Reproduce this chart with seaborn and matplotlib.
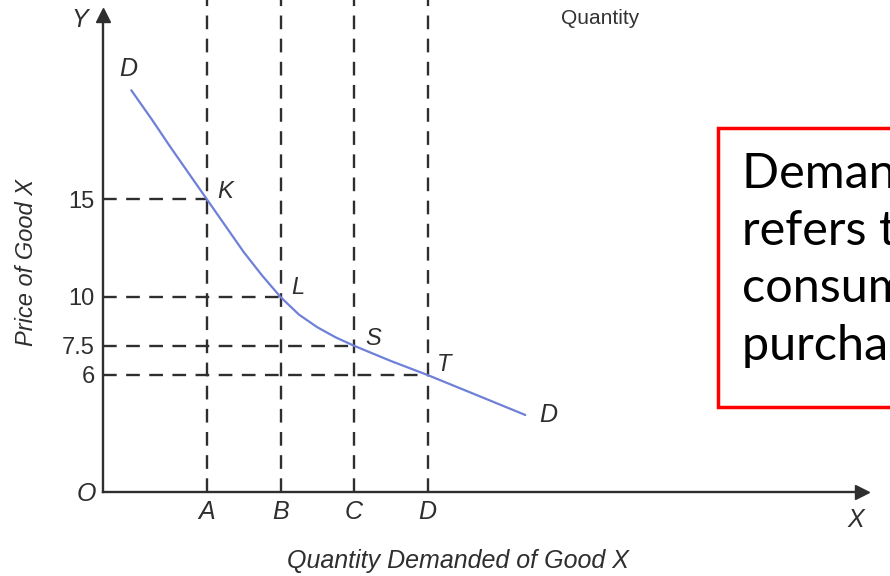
import matplotlib
matplotlib.use("Agg")
import matplotlib.pyplot as plt
import seaborn as sns
from matplotlib.patches import Rectangle

# -------------------------
# Data
# -------------------------
point_labels = ["K", "L", "S", "T"]
qty_labels = ["A", "B", "C", "D"]
quantities = [1, 2, 3, 4]
prices = [15, 10, 7.5, 6]
price_labels = ["15", "10", "7.5", "6"]

# demand curve DD
curve_q = [-0.03, 0.25, 0.5, 0.75, 1.0, 1.25, 1.5, 1.75, 2.0, 2.25, 2.5, 2.75,
           3.0, 3.5, 4.0, 4.65, 5.33]
curve_p = [20.6, 19.1, 17.7, 16.35, 15.0, 13.65, 12.3, 11.1, 10.0, 9.1, 8.45, 7.93,
           7.5, 6.72, 6.0, 5.0, 3.95]

box_lines = ["Demand in economics", "refers to the desire", "consumers have to", "purchase goods"]

sns.set_theme(style="white")
plt.rcParams["font.family"] = ["Liberation Sans", "DejaVu Sans"]

W, H = 890, 576


def fpx(x, y):
    # figure fraction from pixel position
    return x / W, 1 - y / H


ink = "#2e2e2e"
dash = (0, (5.8, 4))

fig = plt.figure(figsize=(W / 100, H / 100), dpi=100)
ax = fig.add_axes([103 / W, 84 / H, 759 / W, 477 / H])
ax.set_xlim(-0.415, 9.911)
ax.set_ylim(0, 24.46)
x0 = ax.get_xlim()[0]

# guide lines
for q, p in zip(quantities, prices):
    ax.axvline(q, ymin=0, ymax=1.04, color=ink, lw=1.7, ls=dash, clip_on=False)
    ax.plot([x0, q], [p, p], color=ink, lw=1.7, ls=dash)

# demand curve
sns.lineplot(x=curve_q, y=curve_p, ax=ax, color="#6f80d8", lw=1.6)

# point labels
offsets = [(18, 8), (17, 9), (19, 7), (17, 10)]
for lab, q, p, off in zip(point_labels, quantities, prices, offsets):
    ax.annotate(lab, (q, p), xytext=off, textcoords="offset pixels",
                ha="center", va="center", fontsize=17, fontstyle="italic", color=ink)
ax.annotate("D", (curve_q[0], curve_p[0]), xytext=(-3, 21), textcoords="offset pixels",
            ha="center", va="center", fontsize=18, fontstyle="italic", color=ink)
ax.annotate("D", (curve_q[-1], curve_p[-1]), xytext=(23, 0), textcoords="offset pixels",
            ha="center", va="center", fontsize=18, fontstyle="italic", color=ink)

# letters cut off at the top edge, as in the scan
for q, lab in zip(quantities, qty_labels):
    ax.text(q, 1.02, lab, transform=ax.get_xaxis_transform(), ha="center", va="bottom",
            fontsize=18, fontstyle="italic", color=ink, clip_on=False)

# axes with arrows
sns.despine(ax=ax)
for s in ["left", "bottom"]:
    ax.spines[s].set_color(ink)
    ax.spines[s].set_linewidth(1.7)
ax.plot(1, 0, ">", color=ink, ms=10, transform=ax.transAxes, clip_on=False)
ax.plot(0, 1, "^", color=ink, ms=10, transform=ax.transAxes, clip_on=False)

ax.set_xticks(quantities, qty_labels, fontsize=18, fontstyle="italic")
ax.set_yticks(prices, price_labels, fontsize=17)
ax.tick_params(axis="both", length=0, pad=6, colors=ink)

ax.set_xlabel("Quantity Demanded of Good X", fontsize=18, fontstyle="italic", color=ink)
ax.xaxis.set_label_coords((458 - 103) / 759, (492 - 549) / 477)
ax.set_ylabel("Price of Good X", fontsize=17, fontstyle="italic", color=ink)
ax.yaxis.set_label_coords((38 - 103) / 759, (492 - 262) / 477)

fig.text(*fpx(80, 20), "Y", fontsize=18, fontstyle="italic", color=ink, ha="center", va="center")
fig.text(*fpx(86, 494), "O", fontsize=18, fontstyle="italic", color=ink, ha="center", va="center")
fig.text(*fpx(856, 520), "X", fontsize=18, fontstyle="italic", color=ink, ha="center", va="center")
fig.text(*fpx(600, 18), "Quantity", fontsize=15, color="#333333", ha="center", va="center")

# red definition box (cut off by the right edge)
box = Rectangle(fpx(718, 407), 0.3, (407 - 128) / H, transform=fig.transFigure,
                facecolor="white", edgecolor="#ff0000", lw=2.5, zorder=5)
fig.add_artist(box)
for i, line in enumerate(box_lines):
    fig.text(*fpx(742, 188 + 57 * i), line, fontsize=35, family="Lato",
             va="baseline", ha="left", color="black", zorder=6)

fig.savefig("out.png", dpi=100)
